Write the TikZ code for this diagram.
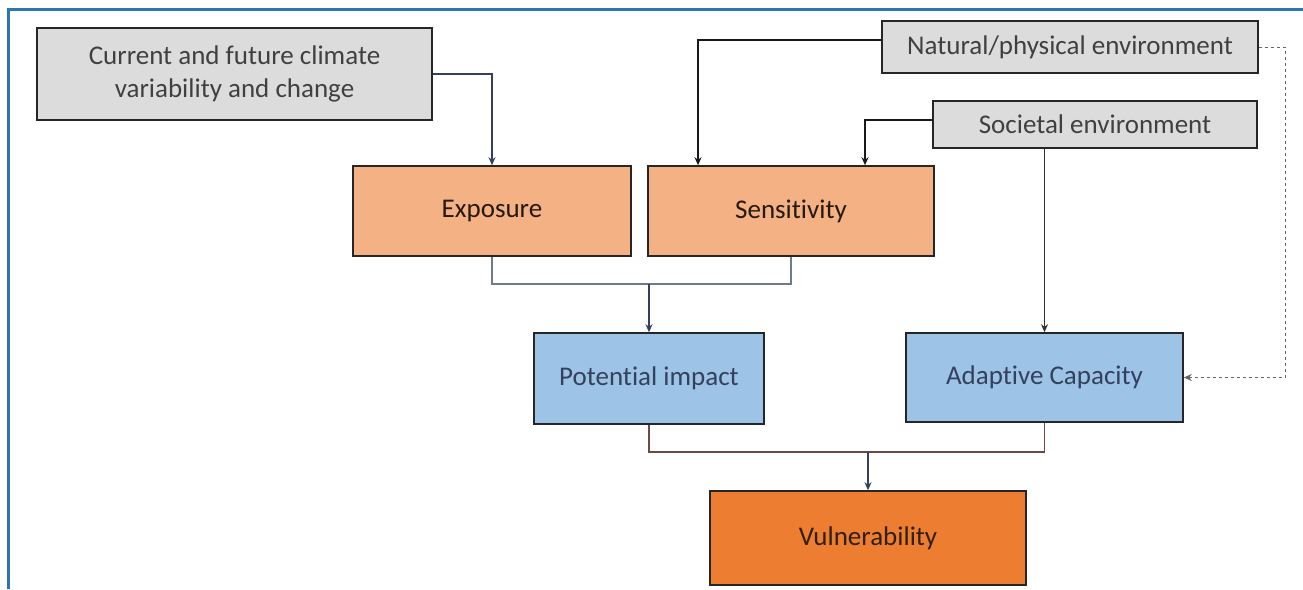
\documentclass[tikz,border=0pt]{standalone}
\usepackage{fontspec}
\setmainfont{Carlito}[Ligatures=NoCommon]
\usetikzlibrary{arrows.meta}
\definecolor{frameblue}{HTML}{2E75B6}
\definecolor{boxgrey}{HTML}{DCDCDC}
\definecolor{boxpeach}{HTML}{F4B183}
\definecolor{boxblue}{HTML}{9DC3E6}
\definecolor{boxorange}{HTML}{ED7D31}
\definecolor{linenavy}{HTML}{33415C}
\definecolor{linebrown}{HTML}{6B4A44}

\begin{document}
\begin{tikzpicture}[x=1pt, y=-1pt,
    box/.style={draw=black!85, line width=1.6pt, align=center, inner sep=0pt,
        font=\fontsize{27}{33}\selectfont},
    greybox/.style={box, fill=boxgrey, text=black!75},
    peachbox/.style={box, fill=boxpeach, text=black!80!brown},
    bluebox/.style={box, fill=boxblue, text=linenavy},
    vulnbox/.style={box, fill=boxorange, text=black!75!brown},
    conn/.style={-{Stealth[length=8pt, width=7pt]}, line width=1.1pt, draw=linenavy},
    boldconn/.style={conn, line width=2pt, draw=black!90},
    joinline/.style={line width=1.4pt, draw=linebrown}]
    \useasboundingbox (0,0) rectangle (1303,589);
    \draw[frameblue, line width=3pt] (8,589) -- (8,9) -- (1303,9);

    %Nodes
    \node[greybox, minimum width=395pt, minimum height=92pt] at (234.5, 74) (clim) {Current and future climate\\variability and change};
    \node[greybox, minimum width=376pt, minimum height=52pt] at (1070, 47) (nat) {Natural/physical environment};
    \node[greybox, minimum width=324pt, minimum height=47pt] at (1095, 124.5) (soc) {Societal environment};
    \node[peachbox, minimum width=278pt, minimum height=90pt] at (492, 211) (expo) {Exposure};
    \node[peachbox, minimum width=286pt, minimum height=90pt] at (791, 211) (sens) {Sensitivity};
    \node[bluebox, minimum width=230pt, minimum height=91pt] at (649, 378.5) (pot) {Potential impact};
    \node[bluebox, minimum width=277pt, minimum height=89pt] at (1044.5, 377.5) (adapt) {Adaptive Capacity};
    \node[vulnbox, minimum width=316pt, minimum height=94pt] at (868, 538) (vuln) {Vulnerability};

    \coordinate (natc) at (1285, 47);
    \coordinate (jpot) at (649, 284);
    \coordinate (jvuln) at (868, 452);

    %Lines
    \draw[conn] (clim.east) -| (expo.north);
    \draw[boldconn] ([yshift=7pt]nat.west) -| ([xshift=-93pt]sens.north);
    \draw[boldconn] ([yshift=4.5pt]soc.west) -| ([xshift=74pt]sens.north);
    \draw[conn, draw=black!80, line width=1.4pt] (soc.south -| adapt.north) -- (adapt.north);
    \draw[conn, dashed, draw=black!60, line width=1pt] (nat.east) -- (natc) |- (adapt.east);
    \draw[joinline, draw=linenavy!70] (expo.south) |- (jpot) -| (sens.south);
    \draw[conn] (jpot) -- (pot.north);
    \draw[joinline] (pot.south) |- (jvuln) -| (adapt.south);
    \draw[conn] (jvuln) -- (vuln.north);
\end{tikzpicture}
\end{document}
